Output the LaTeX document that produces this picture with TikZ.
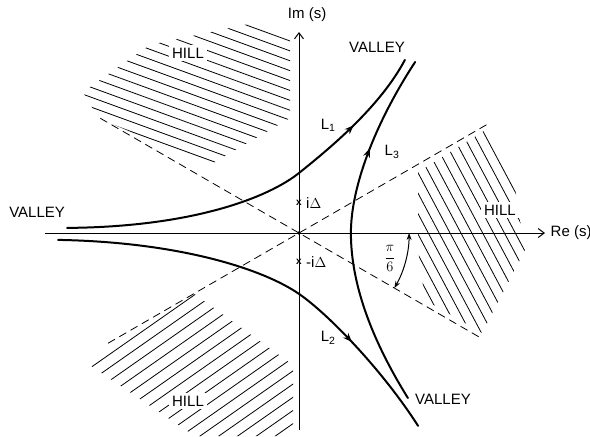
\documentclass[tikz,border=0pt]{standalone}
\usepackage{fontspec}
\setmainfont{Liberation Sans}
\usetikzlibrary{arrows.meta,decorations.markings}
\tikzset{
  contour/.style={line width=2pt, line cap=round},
  hatch/.style={line width=.8pt},
  sector/.style={dash pattern=on 8pt off 5pt, line width=.8pt},
  midarrow/.style={postaction={decorate}, decoration={markings,
      mark=at position #1 with {\arrow{Stealth[length=9pt,width=7pt]}}}},
  lbl/.style={font=\fontsize{15}{15}\selectfont, inner sep=1pt},
  hilllbl/.style={lbl, fill=white, inner sep=3pt},
}
\begin{document}
\begin{tikzpicture}[>={Straight Barb[length=6pt,width=9pt]}, x=30pt, y=30pt]
\useasboundingbox (-9.967,-6.767) rectangle (9.7,7.767);
% hatched hills
\begin{scope}
  \clip (-1.37,7.03) -- (-0.3,6.7) -- (-0.3,3.83) -- (-2.97,2.27) -- (-6.7,3.83) -- (-7.2,4.7) -- (-4.97,6.27) -- cycle;
  \begin{scope}[shift={(-3.7,5)}, rotate=-20]
    \foreach \k in {-10,...,10}{\draw[hatch] (-7,\k*0.31) -- (7,\k*0.31);}
  \end{scope}
\end{scope}
\begin{scope}
  \clip (3.97,2.03) -- (6.37,3.53) -- (7.13,1.93) -- (7.53,-0.57) -- (6.1,-3.33) -- (4.2,-2.23) -- (3.97,-0.57) -- cycle;
  \begin{scope}[shift={(5.6,0.3)}, rotate=-62]
    \foreach \k in {-10,...,10}{\draw[hatch] (-7,\k*0.32) -- (7,\k*0.32);}
  \end{scope}
\end{scope}
\begin{scope}
  \clip (-7.13,-4.3) -- (-3.53,-2.0) -- (-0.2,-4.4) -- (-0.2,-6.77) -- (-3.47,-6.77) -- cycle;
  \begin{scope}[shift={(-3,-4.8)}, rotate=35]
    \foreach \k in {-12,...,12}{\draw[hatch] (-8,\k*0.36) -- (8,\k*0.36);}
  \end{scope}
\end{scope}
% sector boundaries
\draw[sector] (150:7.65) -- (-30:7.0);
\draw[sector] (210:7.35) -- (30:7.3);
% axes
\draw[->, line width=1pt] (-8.47,0) -- (8.2,0);
\draw[->, line width=1pt] (0,-6.57) -- (0,6.7);
\node[lbl] (re) at (9.07,0) {Re (s)};
\node[lbl] (im) at (0.27,7.27) {Im (s)};
\node[circle, fill, inner sep=1.4pt] (O) at (0,0) {};
% saddle points
\node[font=\bfseries\fontsize{10}{10}\selectfont, inner sep=0pt] (pI) at (0,1) {x};
\node[font=\bfseries\fontsize{10}{10}\selectfont, inner sep=0pt] (mI) at (0,-0.97) {x};
\node[lbl, right] (pIl) at (0.2,1) {i$\Delta$};
\node[lbl, right] (mIl) at (0.2,-0.97) {-i$\Delta$};
% angle
\draw[{Stealth[length=7pt,width=5pt]}-{Stealth[length=7pt,width=5pt]}, line width=1pt] (0:3.67) arc (0:-30:3.67);
\node[lbl] (ang) at (3.03,-0.85) {$\displaystyle\frac{\pi}{6}$};
% contours
\draw[contour, midarrow=.79] (-7.73,.17) .. controls (-3.5,.2) and (-1,1.2) .. (0,2)
  .. controls (1,2.8) and (2.7,4.2) .. (3.53,5.77);
\draw[contour, midarrow=.75] (-8.03,-.23) .. controls (-4,-.3) and (-1.2,-1.2) .. (0,-2.03)
  .. controls (1,-2.72) and (2.8,-4.6) .. (3.97,-6.43);
\draw[contour, midarrow=.73] (3.63,-5.5) .. controls (2.2,-3.2) and (1.73,-1.4) .. (1.73,0)
  .. controls (1.73,1.5) and (2.5,3.6) .. (3.87,5.7);
\node[lbl] (lOne) at (0.97,3.6) {L\textsubscript{1}};
\node[lbl] (lTwo) at (0.97,-3.5) {L\textsubscript{2}};
\node[lbl] (lThree) at (3.1,2.7) {L\textsubscript{3}};
% labels
\node[hilllbl] (hillA) at (-3.7,6.0) {HILL};
\node[hilllbl] (hillB) at (6.7,.77) {HILL};
\node[hilllbl] (hillC) at (-3.7,-5.6) {HILL};
\node[lbl] (valA) at (2.6,6.2) {VALLEY};
\node[lbl] (valB) at (-8.73,.7) {VALLEY};
\node[lbl] (valC) at (4.8,-5.53) {VALLEY};
\end{tikzpicture}
\end{document}
